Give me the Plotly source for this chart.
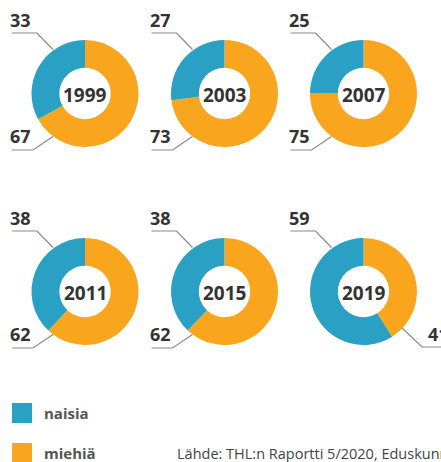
import plotly.graph_objects as go

# ---- data ----
years = ["1999", "2003", "2007", "2011", "2015", "2019"]
naisia = [33, 27, 25, 38, 38, 59]
miehia = [67, 73, 75, 62, 62, 41]
series_names = ["naisia", "miehiä"]
source_text = "Lähde: THL:n Raportti 5/2020, Eduskunnan kirjasto"

# ---- style ----
W, H = 441, 462
BLUE = "#29a0c4"
ORANGE = "#f9a61e"
TXT = "#333333"
LINE = "#8a8a8a"
FONT = "Open Sans"
R = 53.5
col_x = [85, 224.5, 363.5]
row_y = [93.5, 291.5]


def px(x):
    return x / W


def py(y):
    return 1 - y / H


fig = go.Figure()
annotations = []
shapes = []

for i, yr in enumerate(years):
    cx = col_x[i % 3]
    cy = row_y[i // 3]
    fig.add_trace(go.Pie(
        values=[miehia[i], naisia[i]],
        labels=[series_names[1], series_names[0]],
        sort=False, direction="clockwise", rotation=0,
        hole=0.48,
        marker=dict(colors=[ORANGE, BLUE], line=dict(width=0)),
        textinfo="none", hoverinfo="label+value",
        domain=dict(x=[px(cx - R), px(cx + R)], y=[py(cy + R), py(cy - R)]),
        showlegend=False,
    ))
    # year in the hole
    annotations.append(dict(x=px(cx), y=py(cy + 1), xref="paper", yref="paper",
                            text=f"<b>{yr}</b>", showarrow=False,
                            font=dict(family=FONT, size=19, color=TXT),
                            xanchor="center", yanchor="middle"))
    # naisia label, top-left
    annotations.append(dict(x=px(cx - 77), y=py(cy - 73.5), xref="paper", yref="paper",
                            text=f"<b>{naisia[i]}</b>", showarrow=False,
                            font=dict(family=FONT, size=18, color=TXT),
                            xanchor="left", yanchor="middle"))
    shapes.append(dict(type="path", xref="paper", yref="paper",
                       path=f"M {px(cx-73)},{py(cy-60.5)} L {px(cx-48)},{py(cy-60.5)} L {px(cx-32)},{py(cy-44)}",
                       line=dict(color=LINE, width=1.2)))
    # miehiä label, bottom
    if miehia[i] > 50:
        annotations.append(dict(x=px(cx - 77), y=py(cy + 42), xref="paper", yref="paper",
                                text=f"<b>{miehia[i]}</b>", showarrow=False,
                                font=dict(family=FONT, size=18, color=TXT),
                                xanchor="left", yanchor="middle"))
        shapes.append(dict(type="path", xref="paper", yref="paper",
                           path=f"M {px(cx-73)},{py(cy+56.5)} L {px(cx-52)},{py(cy+56.5)} L {px(cx-32)},{py(cy+43)}",
                           line=dict(color=LINE, width=1.2)))
    else:
        annotations.append(dict(x=px(cx + 62), y=py(cy + 42), xref="paper", yref="paper",
                                text=f"<b>{miehia[i]}</b>", showarrow=False,
                                font=dict(family=FONT, size=18, color=TXT),
                                xanchor="left", yanchor="middle"))
        shapes.append(dict(type="path", xref="paper", yref="paper",
                           path=f"M {px(cx+38.5)},{py(cy+36.5)} L {px(cx+58.5)},{py(cy+55.5)} L {px(cx+90)},{py(cy+55.5)}",
                           line=dict(color=LINE, width=1.2)))

# legend (manual, large squares)
leg_y = [413, 453]
leg_col = [BLUE, ORANGE]
for name, ly, c in zip(series_names, leg_y, leg_col):
    shapes.append(dict(type="rect", xref="paper", yref="paper",
                       x0=px(12), x1=px(32), y0=py(ly + 10), y1=py(ly - 10),
                       fillcolor=c, line=dict(width=0)))
    annotations.append(dict(x=px(42), y=py(ly), xref="paper", yref="paper",
                            text=f"<b>{name}</b>", showarrow=False,
                            font=dict(family=FONT, size=15, color="#555555"),
                            xanchor="left", yanchor="middle"))

annotations.append(dict(x=px(175), y=py(453), xref="paper", yref="paper",
                        text=source_text, showarrow=False,
                        font=dict(family=FONT, size=14.5, color="#444444"),
                        xanchor="left", yanchor="middle"))

fig.update_layout(
    width=W, height=H, autosize=False,
    margin=dict(l=0, r=0, t=0, b=0),
    paper_bgcolor="white", plot_bgcolor="white",
    annotations=annotations, shapes=shapes,
    showlegend=False,
)

fig.write_html(
    "out.html",
    config={"displayModeBar": False},
    post_script="document.body.style.margin='0';document.body.style.overflow='hidden';",
)
